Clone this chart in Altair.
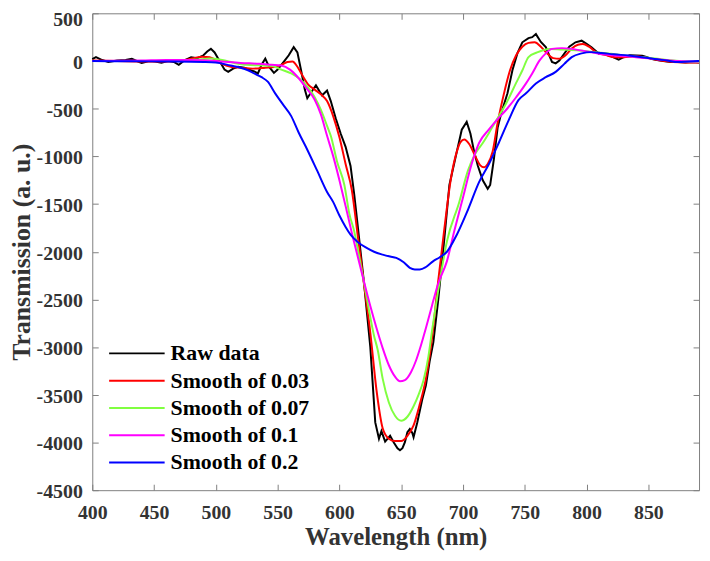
import altair as alt
import pandas as pd

names = ["Raw data", "Smooth of 0.03", "Smooth of 0.07", "Smooth of 0.1", "Smooth of 0.2"]
colors = ["#000000", "#ff0000", "#80ff40", "#ff00ff", "#0000ff"]

raw_x = [400, 403, 408, 413, 420, 427, 432, 436, 440, 446, 451, 456, 461, 466, 470, 475, 480, 485, 490, 493,
         496, 499, 503, 507, 510, 514, 518, 523, 528, 531, 534, 537, 540, 543, 547, 550, 553, 556, 559, 563,
         566, 569, 572, 574, 577, 581, 584, 586, 590, 593, 597, 601, 605, 609, 612, 615, 620, 625, 629, 632,
         634, 637, 641, 644, 647, 649, 651, 653, 655, 657, 659, 660, 663, 667, 670, 673, 676, 680, 685, 689,
         695, 699, 703, 706, 709, 712, 716, 720, 722, 725, 728, 731, 736, 740, 744, 748, 753, 756, 759, 763,
         767, 772, 775, 778, 781, 786, 791, 796, 800, 804, 810, 815, 820, 826, 830, 835, 840, 845, 849, 853,
         857, 862, 868, 874, 880, 886, 891]
raw_y = [20, 40, 10, -10, 5, 10, 24, 0, -21, 0, -5, -18, 0, -10, -40, 10, 40, 30, 60, 100,
         127, 90, 0, -90, -114, -80, -60, -70, -95, -110, -131, -40, 24, -60, -125, -90, -40, 10, 60, 145,
         90, -100, -300, -390, -330, -256, -320, -360, -310, -420, -600, -760, -900, -1100, -1400, -1750, -2340, -3000, -3789, -3960,
         -3880, -3990, -3930, -4000, -4060, -4082, -4060, -3996, -3892, -3858, -3900, -3945, -3790, -3550, -3400, -3150, -2950, -2500, -1850, -1300,
         -950, -720, -638, -760, -950, -1098, -1250, -1340, -1300, -1029, -700, -545, -339, -97, 80, 196, 240, 250, 282, 200,
         145, -10, -25, 5, 60, 150, 196, 213, 180, 145, 75, 70, 50, 15, 40, 60, 58, 55, 40, 20,
         10, 0, -10, -10, -15, -10, -15]

s03_x = [400, 420, 440, 460, 475, 482, 489, 495, 500, 505, 512, 520, 530, 540, 548, 553, 558, 562, 566, 570,
         575, 580, 585, 590, 595, 600, 605, 610, 615, 620, 625, 630, 635, 640, 645, 650, 655, 660, 665, 670,
         675, 680, 685, 690, 695, 698, 701, 705, 710, 714, 717, 720, 724, 728, 733, 738, 743, 748, 753, 758,
         763, 768, 773, 778, 783, 788, 793, 797, 802, 808, 815, 822, 830, 840, 850, 860, 870, 880, 891]
s03_y = [5, 0, -5, -5, 10, 30, 45, 40, 10, -30, -60, -70, -80, -70, -60, -40, -10, -5, -60, -150,
         -250, -300, -350, -420, -580, -800, -1080, -1350, -1850, -2350, -2850, -3450, -3850, -3960, -3985, -3985, -3930, -3820, -3600, -3330,
         -2900, -2300, -1750, -1250, -950, -850, -822, -870, -1000, -1095, -1115, -1080, -950, -650, -350, -100, 60, 150, 190, 196,
         150, 80, 30, 24, 60, 130, 170, 179, 150, 90, 65, 40, 40, 50, 30, 5, -10, -15, -15]

s07_x = [400, 450, 470, 485, 495, 505, 515, 525, 535, 545, 553, 561, 568, 574, 580, 585, 590, 593, 598, 604,
         608, 612, 616, 620, 624, 628, 631, 635, 640, 645, 650, 655, 660, 664, 668, 672, 675, 680, 687, 697,
         704, 710, 716, 721, 728, 735, 743, 748, 753, 760, 770, 780, 794, 805, 820, 835, 850, 865, 880, 891]
s07_y = [0, 0, 5, 15, 25, 10, -20, -40, -45, -50, -90, -131, -190, -270, -380, -513, -680, -784, -1050, -1300,
         -1600, -1788, -2050, -2330, -2620, -2880, -3030, -3330, -3580, -3720, -3772, -3730, -3620, -3500, -3350, -3100, -2822, -2400, -1891, -1478,
         -1150, -970, -860, -754, -600, -443, -230, -100, 41, 90, 127, 120, 110, 95, 76, 50, 35, 10, -5, -10]

s10_x = [400, 440, 460, 480, 500, 520, 535, 545, 553, 560, 566, 573, 580, 585, 590, 595, 600, 605, 610, 615,
         620, 625, 630, 635, 640, 645, 649, 653, 658, 662, 666, 670, 675, 680, 687, 693, 700, 707, 713, 721,
         728, 735, 743, 751, 756, 762, 767, 772, 780, 788, 800, 810, 825, 840, 860, 875, 891]
s10_y = [0, 5, 10, 10, 0, -20, -30, -40, -48, -90, -165, -280, -406, -560, -784, -1000, -1250, -1520, -1800, -2060,
         -2320, -2570, -2800, -3010, -3190, -3310, -3358, -3345, -3260, -3140, -2980, -2800, -2560, -2330, -2098, -1780, -1430, -1080, -860, -718,
         -610, -511, -380, -235, -130, 6, 80, 127, 135, 127, 100, 76, 55, 40, 15, 0, -5]

s20_x = [400, 430, 460, 490, 500, 512, 520, 526, 531, 537, 542, 548, 554, 561, 567, 574, 582, 590, 595, 600,
         605, 609, 615, 622, 628, 635, 641, 646, 652, 657, 661, 665, 670, 676, 681, 687, 695, 704, 713, 721,
         729, 737, 745, 751, 759, 767, 775, 782, 788, 796, 804, 812, 822, 834, 845, 855, 865, 874, 883, 891]
s20_y = [0, -3, -5, -10, -15, -48, -70, -97, -131, -170, -217, -339, -450, -578, -750, -930, -1150, -1373, -1480, -1620,
         -1740, -1821, -1900, -1960, -2000, -2030, -2050, -2064, -2110, -2168, -2185, -2185, -2160, -2098, -2060, -2000, -1821, -1560, -1270, -1080,
         -857, -620, -408, -339, -235, -170, -114, -30, 41, 80, 93, 85, 70, 58, 40, 20, 5, -11, -5, 0]

x_ticks = [400, 450, 500, 550, 600, 650, 700, 750, 800, 850]
y_ticks = list(range(-4500, 501, 500))


def frame(name, xs, ys):
    return pd.DataFrame({"wavelength": xs, "value": ys, "series": name})


raw_df = frame(names[0], raw_x, raw_y)
smooth_df = pd.concat([
    frame(names[1], s03_x, s03_y),
    frame(names[2], s07_x, s07_y),
    frame(names[3], s10_x, s10_y),
    frame(names[4], s20_x, s20_y),
], ignore_index=True)
legend_df = pd.DataFrame({"series": names})

W, H = 612, 481
FONT = "Liberation Serif"
AXC = "#808080"
TXT = "#333333"

xscale = alt.Scale(domain=[400, 891], nice=False, zero=False)
yscale = alt.Scale(domain=[-4500, 500], nice=False, zero=False)
cscale = alt.Scale(domain=names, range=colors)
lscale = alt.Scale(type="point", domain=names, range=[343, 453], padding=0)

tick_style = dict(domain=False, grid=False, ticks=True, tickSize=6, tickWidth=1,
                  tickColor=AXC, offset=-6, labelFlush=False)

x_bottom = alt.Axis(values=x_ticks, orient="bottom", labelFont=FONT, labelFontWeight="bold",
                    labelFontSize=20, labelColor=TXT, labelPadding=29, labelBaseline="alphabetic",
                    labelExpr="'' + datum.value", labelOverlap=False,
                    title="Wavelength (nm)", titleFont=FONT, titleFontWeight="bold", titleFontSize=25,
                    titleColor=TXT, titleX=W / 2, titleY=61, titleBaseline="alphabetic",
                    titleAlign="center", **tick_style)
y_left = alt.Axis(values=y_ticks, orient="left", labelFont=FONT, labelFontWeight="bold",
                  labelFontSize=20, labelColor=TXT, labelPadding=10,
                  labelOffset={"condition": {"test": "datum.value == 500", "value": 6.5}, "value": 1.5},
                  labelExpr="'' + datum.value", labelOverlap=False,
                  title="Transmission (a. u.)", titleFont=FONT, titleFontWeight="bold",
                  titleFontSize=26, titleColor=TXT, titleX=-77, titleY=H / 2, titleAngle=270,
                  titleAlign="center", titleBaseline="middle", **tick_style)
x_top = alt.Axis(values=x_ticks, orient="top", labels=False, title=None, **tick_style)
y_right = alt.Axis(values=y_ticks, orient="right", labels=False, title=None, **tick_style)

raw_layer = alt.Chart(raw_df).mark_line(strokeWidth=2).encode(
    x=alt.X("wavelength:Q", scale=xscale, axis=x_bottom),
    y=alt.Y("value:Q", scale=yscale, axis=y_left),
    color=alt.Color("series:N", scale=cscale, legend=None),
)

smooth_layer = alt.Chart(smooth_df).mark_line(strokeWidth=2, interpolate="monotone").encode(
    x=alt.X("wavelength:Q", scale=xscale, axis=None),
    y=alt.Y("value:Q", scale=yscale, axis=None),
    color=alt.Color("series:N", scale=cscale, legend=None),
)

tick_layer = alt.Chart(raw_df).mark_line(opacity=0).encode(
    x=alt.X("wavelength:Q", scale=xscale, axis=x_top),
    y=alt.Y("value:Q", scale=yscale, axis=y_right),
)

legend_rules = alt.Chart(legend_df).mark_rule(strokeWidth=2).encode(
    x=alt.value(17), x2=alt.value(73),
    y=alt.Y("series:N", scale=lscale, axis=None),
    color=alt.Color("series:N", scale=cscale, legend=None),
)

legend_text = alt.Chart(legend_df).mark_text(
    align="left", baseline="middle", font=FONT, fontWeight="bold", fontSize=22, color="#000000"
).encode(
    x=alt.value(79),
    y=alt.Y("series:N", scale=lscale, axis=None),
    text="series:N",
)

chart = (
    alt.layer(raw_layer, smooth_layer, tick_layer, legend_rules, legend_text)
    .resolve_scale(y="independent")
    .resolve_axis(x="independent", y="independent")
    .properties(
        width=W, height=H,
        padding={"left": 85, "top": 3, "right": 3, "bottom": 61},
        autosize=alt.AutoSizeParams(type="none"),
        background="white",
    )
    .configure_view(stroke=AXC, strokeWidth=1)
)

chart.save("out.html", embed_options={"renderer": "svg", "actions": False})
